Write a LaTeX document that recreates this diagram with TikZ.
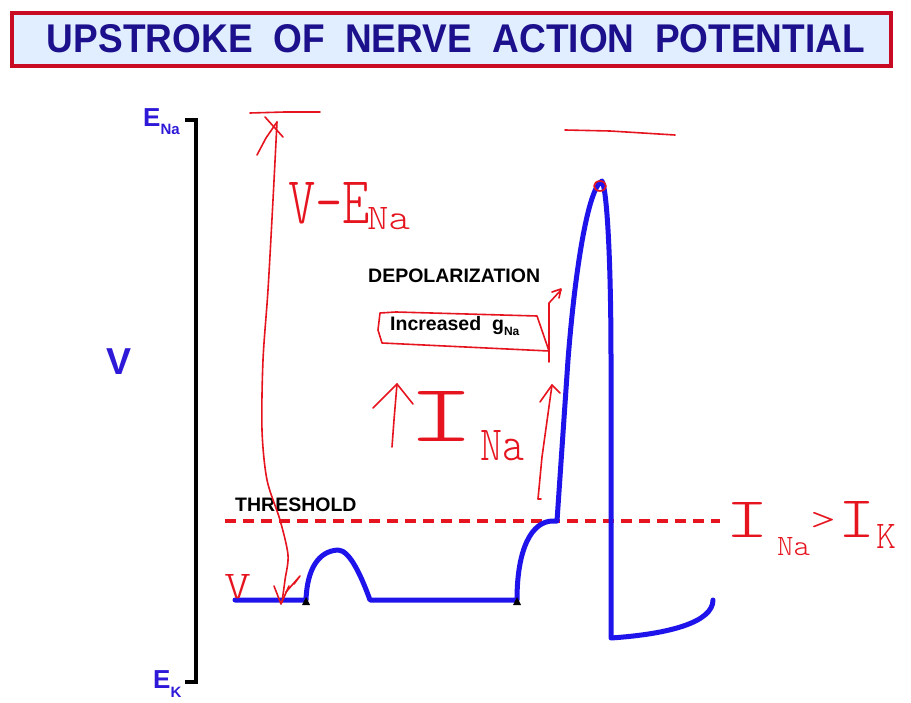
\documentclass[tikz,border=0pt]{standalone}
\usepackage{fontspec}
\setmainfont{Liberation Sans}
\newfontfamily\handfont{lmmonolt10-regular.otf}
\usepackage{graphicx}
\definecolor{ttlblue}{RGB}{28,16,140}
\definecolor{lblblue}{RGB}{45,25,215}
\definecolor{crvblue}{RGB}{30,20,235}
\definecolor{penred}{RGB}{230,20,30}
\definecolor{boxred}{RGB}{200,10,35}
\definecolor{boxfill}{RGB}{225,238,255}
\newcommand\handw[3]{\resizebox{#1pt}{#2pt}{\handfont #3}}
\begin{document}
\begin{tikzpicture}[x=1pt,y=-1pt,
  pen/.style={penred, line width=1.6pt, line cap=round, line join=round},
  curveline/.style={crvblue, line width=5pt, line join=round, line cap=round},
  lbl/.style={inner sep=0pt, anchor=base west},
  hwtext/.style={inner sep=0pt, anchor=base west, text=penred},
  blk/.style={inner sep=0pt, anchor=base west, text=black, font=\fontsize{19.5}{19.5}\selectfont\bfseries}]
\useasboundingbox (0,0) rectangle (911,703);
\fill[white] (0,0) rectangle (911,703);

% title
\draw[boxred, line width=4pt, fill=boxfill] (12,13) rectangle (891,66);
\node[anchor=base, inner sep=0pt, text=ttlblue] (title) at (456,53)
  {\resizebox{818pt}{28pt}{\bfseries UPSTROKE\ \ OF\ \ NERVE\ \ ACTION\ \ POTENTIAL}};

% axis bracket
\draw[black, line width=3.5pt] (185,120) -- (196,120) -- (196,682) -- (185,682);
\node[lbl, text=lblblue] (ena) at (143,127)
  {\fontsize{26}{26}\selectfont\bfseries E\raisebox{-8pt}{\fontsize{15}{15}\selectfont Na}};
\node[lbl, text=lblblue] (ek) at (153,688)
  {\fontsize{26}{26}\selectfont\bfseries E\raisebox{-9pt}{\fontsize{15}{15}\selectfont K}};
\node[lbl, text=lblblue] (vlab) at (106,375) {\fontsize{37.5}{37.5}\selectfont\bfseries V};

% labels
\node[blk] (depol) at (368,283) {DEPOLARIZATION};
\node[blk] (incr) at (390,331) {Increased\ \ g\raisebox{-5pt}{\fontsize{12}{12}\selectfont Na}};
\node[blk] (thr) at (235,511) {THRESHOLD};

% threshold line
\draw[penred, line width=4pt, dash pattern=on 11pt off 7pt] (225,521) -- (720,521);

% action potential curve
\draw[curveline] (235,600) -- (306,600)
  .. controls (307,570) and (318,551) .. (338,550)
  .. controls (350,550) and (362,578) .. (370,600)
  -- (517,600)
  .. controls (517,548) and (532,521) .. (553,521) -- (557,521)
  -- (568,360)
  .. controls (575,270) and (588,188) .. (602,181)
  .. controls (607,190) and (611,260) .. (611,360)
  -- (611,638)
  .. controls (670,634) and (713,622) .. (713,600);
\fill[black] (302,605) -- (306,597) -- (310,605) -- cycle;
\fill[black] (513,605) -- (517,597) -- (521,605) -- cycle;

% handwritten annotations
% long double arrow V to E_Na
\draw[pen] (250,113) -- (285,112) -- (320,112);
\draw[pen] plot[smooth] coordinates {(277,122) (273,200) (268,290) (263,360) (262,430) (267,480) (280,520) (288,555) (285,580) (282,602)};
\draw[pen] (257,155) -- (266,138) -- (277,122);
\draw[pen] (265,117) -- (283,137);
\draw[pen] (274,586) -- (281,604) -- (289,586);
\draw[pen] (286,592) -- (300,576) -- (294,584);
\node[hwtext] (vhw) at (224,598) {\handw{27}{24}{V}};
\node[hwtext] (vmena) at (288,224) {\handw{82}{41}{V-E}};
\node[hwtext] (na1) at (367,230) {\handw{43}{22}{Na}};

% increased gNa box and arrow
\draw[pen] (382,343) -- (378,330) -- (380,313) -- (396,312) -- (537,316) -- (549,351) -- cycle;
\draw[pen] (549,362) -- (549,303) -- (561,290);
\draw[pen] (552,292) -- (561,289) -- (559,298);

% up arrow I_Na
\draw[pen] (392,447) -- (394,420) -- (397,384);
\draw[pen] (373,408) -- (397,384) -- (413,404);
\node[hwtext] (ina) at (407,442) {\handw{68}{50}{I}};
\node[hwtext] (na2) at (480,460) {\handw{44}{30}{Na}};
\draw[pen] (541,499) -- (538,499) -- (542,457) -- (552,385);
\draw[pen] (540,402) -- (552,385) -- (560,393);

% peak marker and top line
\draw[pen] (600,186) ellipse (6pt and 5pt);
\draw[pen] (565,130) -- (610,131) -- (675,135);

% I_Na > I_K
\node[hwtext] (ina3) at (725,537) {\handw{44}{35}{I}};
\node[hwtext] (na3) at (777,555) {\handw{33}{18}{Na}};
\node[hwtext] (gt) at (810,529) {\handw{26}{17}{>}};
\node[hwtext] (ik) at (838,537) {\handw{37}{36}{I}};
\node[hwtext] (k3) at (876,548) {\handw{20}{24}{K}};
\end{tikzpicture}
\end{document}
